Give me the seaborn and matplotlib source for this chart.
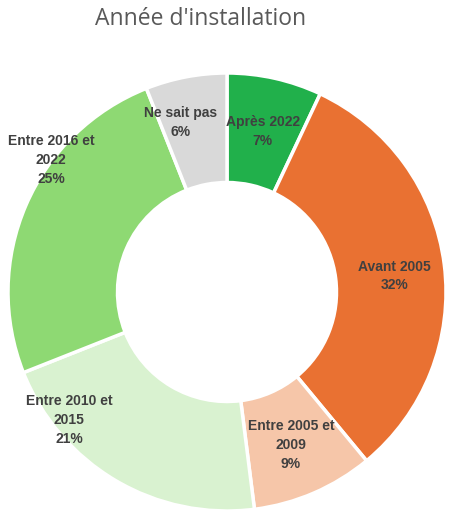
import matplotlib
matplotlib.use("Agg")
import matplotlib.pyplot as plt
import seaborn as sns

sns.set_theme(style="white")
plt.rcParams['font.family'] = ['Liberation Sans Narrow', 'Liberation Sans', 'DejaVu Sans']

categories = ["Après 2022", "Avant 2005", "Entre 2005 et\n2009", "Entre 2010 et\n2015",
              "Entre 2016 et\n2022", "Ne sait pas"]
values = [7, 32, 9, 21, 25, 6]
colors = ["#21B04B", "#E97132", "#F6C6A9", "#D9F2D0", "#8ED973", "#D9D9D9"]
label_pos = [(0.164, 0.735), (0.763, 0.073), (0.292, -0.699), (-0.721, -0.584),
             (-0.804, 0.603), (-0.21, 0.772)]

fig = plt.figure(figsize=(4.52, 5.12), dpi=100)
ax = fig.add_axes([8/452, 1/512, 438/452, 438/512])
wedges, _ = ax.pie(values, colors=colors, startangle=90, counterclock=False,
                   radius=1.0, wedgeprops=dict(width=0.5, edgecolor="white", linewidth=2.5))
for cat, v, (x, y) in zip(categories, values, label_pos):
    ax.text(x, y, f"{cat}\n{v}%", ha="center", va="center", fontsize=10,
            fontweight="bold", color="#404040", linespacing=1.45)
ax.set_xlim(-1, 1)
ax.set_ylim(-1, 1)
ax.set_aspect("equal")
ax.axis("off")
fig.text(201/452, 1 - 19/512, "Année d'installation", ha="center", va="center",
         fontsize=16.5, color="#595959", family=["Open Sans", "DejaVu Sans"])
fig.savefig("out.png", dpi=100)
